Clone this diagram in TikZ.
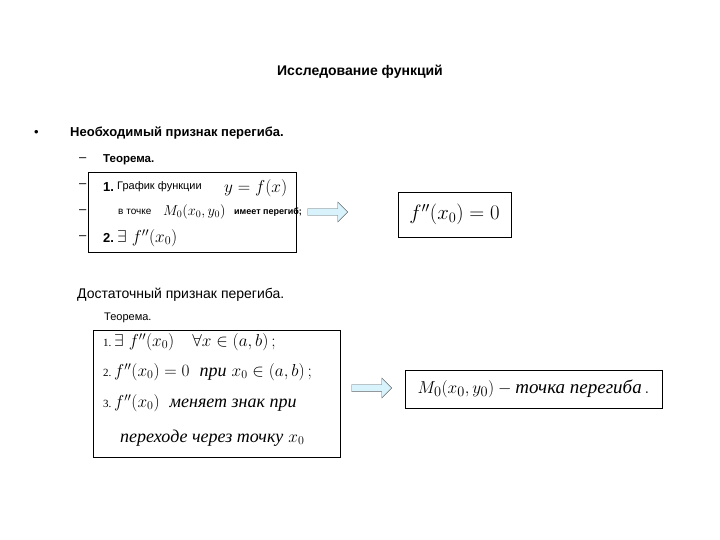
\documentclass[tikz,border=0pt]{standalone}
\usepackage{fontspec}
\setmainfont{Liberation Sans}
\newfontfamily\rmcyr{Liberation Serif}
\usetikzlibrary{shapes.arrows}
\usepackage{amsmath}
\tikzset{
 txt/.style={anchor=west,inner sep=0pt,font=\fontsize{13}{15}\selectfont},
 btxt/.style={txt,font=\fontsize{13}{15}\selectfont\bfseries},
 mth/.style={anchor=west,inner sep=0pt,font=\fontsize{18}{22}\selectfont},
 frame/.style={draw,line width=0.8pt},
 barrow/.style={single arrow,draw=gray!80!black,fill=cyan!15,minimum height=40pt,minimum width=20pt,single arrow head extend=4pt,inner sep=2pt},
}
\newcommand{\cyi}[1]{\text{\rmcyr\itshape #1}}
\begin{document}
\begin{tikzpicture}[x=1pt,y=-1pt]
\useasboundingbox (0,0) rectangle (720,540);
\node[btxt,anchor=center,font=\fontsize{14}{16}\selectfont\bfseries] (title) at (360,72) {Исследование функций};
\node[txt] (bul) at (34,133) {•};
\node[btxt] (h1) at (70,133) {Необходимый признак перегиба.};
\foreach \yy [count=\i] in {160,186,212,238} \node[txt] (d\i) at (79,\yy) {–};
\node[btxt,font=\fontsize{11.5}{13}\selectfont\bfseries] (t1) at (103,160) {Теорема.};
\draw[frame] (88,172) rectangle (296,252);
\node[btxt] (n1) at (103,187) {1.};
\node[txt,font=\fontsize{11}{13}\selectfont] (g1) at (117,187) {График функции};
\node[mth] (m1) at (224,188) {$y=f(x)$};
\node[txt,font=\fontsize{10}{12}\selectfont] (g2) at (118,212) {в точке};
\node[mth,font=\fontsize{14}{16}\selectfont] (m2) at (163,212) {$M_0(x_0,y_0)$};
\node[btxt,font=\fontsize{9}{11}\selectfont\bfseries] (g3) at (234,212) {имеет перегиб;};
\node[btxt] (n2) at (103,238) {2.};
\node[mth] (m3) at (117,238) {$\exists\ f''(x_0)$};
\node[barrow] (a1) at (326,212) {};
\node[frame,minimum width=113pt,minimum height=45pt,font=\fontsize{22}{26}\selectfont] (r1) at (454.5,214.5) {$f''(x_0)=0$};
\node[txt,font=\fontsize{14}{16}\selectfont] (h2) at (77,295) {Достаточный признак перегиба.};
\node[txt,font=\fontsize{11}{13}\selectfont] (t2) at (104,318) {Теорема.};
\draw[frame] (93,330) rectangle (340,457);
\node[txt,font=\fontsize{11}{13}\selectfont\rmcyr] (k1) at (103,343) {1.};
\node[mth] (l1) at (114,342) {$\exists\ f''(x_0)\quad \forall x\in(a,b)\,;$};
\node[txt,font=\fontsize{11}{13}\selectfont\rmcyr] (k2) at (103,373) {2.};
\node[mth] (l2) at (114,372) {$f''(x_0)=0\ \ \cyi{при}\ x_0\in(a,b)\,;$};
\node[txt,font=\fontsize{11}{13}\selectfont\rmcyr] (k3) at (103,404) {3.};
\node[mth] (l3) at (114,403) {$f''(x_0)\ \ \cyi{меняет знак при}$};
\node[mth] (l4) at (120,438) {$\cyi{переходе через точку}\ x_0$};
\node[barrow] (a2) at (370,388) {};
\node[frame,minimum width=257pt,minimum height=38pt,font=\fontsize{19}{22}\selectfont] (r2) at (533.5,389) {$M_0(x_0,y_0)-\cyi{точка перегиба}\,.$};
\end{tikzpicture}
\end{document}
